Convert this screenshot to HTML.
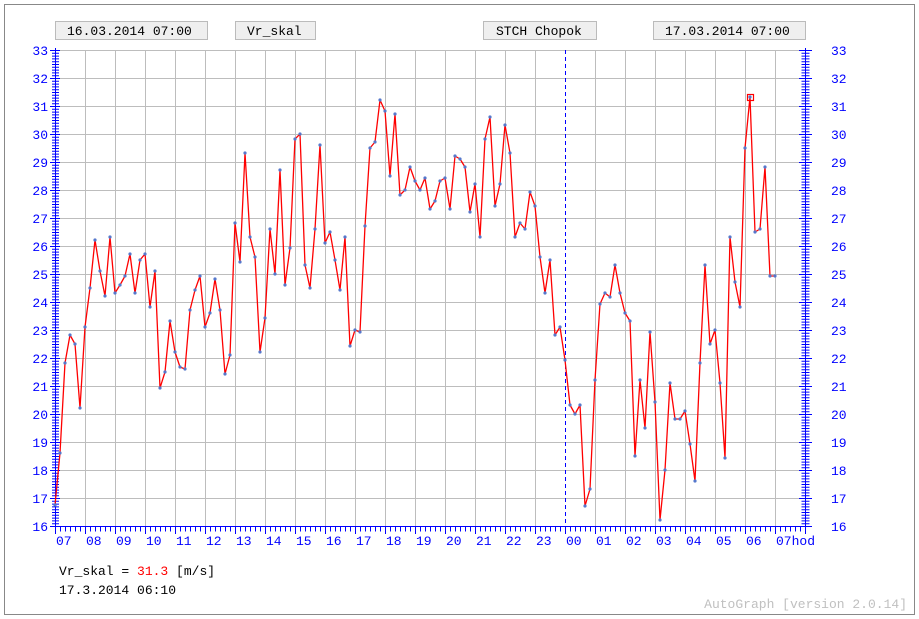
<!DOCTYPE html>
<html><head><meta charset="utf-8"><style>
html,body{margin:0;padding:0;background:#fff;}
svg{display:block;}
text{font-family:"Liberation Mono","DejaVu Sans Mono",monospace;font-size:13px;}
</style></head><body>
<svg width="919" height="619" viewBox="0 0 919 619" xmlns="http://www.w3.org/2000/svg">
<rect x="0" y="0" width="919" height="619" fill="#fff"/>
<rect x="4.5" y="4.5" width="910" height="610" fill="none" stroke="#888" stroke-width="1"/>
<!-- header boxes -->
<g fill="#efefef" stroke="#bbb" stroke-width="1">
<rect x="55.5" y="21.5" width="152" height="18"/>
<rect x="235.5" y="21.5" width="80" height="18"/>
<rect x="483.5" y="21.5" width="113" height="18"/>
<rect x="653.5" y="21.5" width="152" height="18"/>
</g>
<g fill="#000">
<text x="67" y="35">16.03.2014 07:00</text>
<text x="247" y="35">Vr_skal</text>
<text x="496" y="35">STCH Chopok</text>
<text x="665" y="35">17.03.2014 07:00</text>
</g>
<!-- grid -->
<g stroke="#bdbdbd" stroke-width="1">
<path d="M55 50.5H805M55 78.5H805M55 106.5H805M55 134.5H805M55 162.5H805M55 190.5H805M55 218.5H805M55 246.5H805M55 274.5H805M55 302.5H805M55 330.5H805M55 358.5H805M55 386.5H805M55 414.5H805M55 442.5H805M55 470.5H805M55 498.5H805"/>
<path d="M85.5 50V526M115.5 50V526M145.5 50V526M175.5 50V526M205.5 50V526M235.5 50V526M265.5 50V526M295.5 50V526M325.5 50V526M355.5 50V526M385.5 50V526M415.5 50V526M445.5 50V526M475.5 50V526M505.5 50V526M535.5 50V526M595.5 50V526M625.5 50V526M655.5 50V526M685.5 50V526M715.5 50V526M745.5 50V526M775.5 50V526"/>
</g>
<line x1="565.5" y1="50" x2="565.5" y2="526" stroke="#00f" stroke-width="1" stroke-dasharray="4,3"/>
<!-- axes -->
<g stroke="#00f" stroke-width="1">
<line x1="55.5" y1="48" x2="55.5" y2="527"/>
<line x1="55.5" y1="50" x2="55.5" y2="526" stroke-width="7" stroke-dasharray="1,1.8"/>
<line x1="805.5" y1="48" x2="805.5" y2="527"/>
<line x1="805.5" y1="50" x2="805.5" y2="526" stroke-width="8" stroke-dasharray="1,1.8"/>
<line x1="55" y1="526.5" x2="805" y2="526.5"/>
<line x1="55" y1="529" x2="805" y2="529" stroke-width="5" stroke-dasharray="1,4"/>
<path d="M50 50.5H60M50 78.5H60M50 106.5H60M50 134.5H60M50 162.5H60M50 190.5H60M50 218.5H60M50 246.5H60M50 274.5H60M50 302.5H60M50 330.5H60M50 358.5H60M50 386.5H60M50 414.5H60M50 442.5H60M50 470.5H60M50 498.5H60M50 526.5H60"/>
<path d="M799 50.5H812M799 78.5H812M799 106.5H812M799 134.5H812M799 162.5H812M799 190.5H812M799 218.5H812M799 246.5H812M799 274.5H812M799 302.5H812M799 330.5H812M799 358.5H812M799 386.5H812M799 414.5H812M799 442.5H812M799 470.5H812M799 498.5H812M799 526.5H812"/>
<path d="M55.5 526V534M85.5 526V534M115.5 526V534M145.5 526V534M175.5 526V534M205.5 526V534M235.5 526V534M265.5 526V534M295.5 526V534M325.5 526V534M355.5 526V534M385.5 526V534M415.5 526V534M445.5 526V534M475.5 526V534M505.5 526V534M535.5 526V534M565.5 526V534M595.5 526V534M625.5 526V534M655.5 526V534M685.5 526V534M715.5 526V534M745.5 526V534M775.5 526V534M805.5 526V534"/>
</g>
<g fill="#00f" text-anchor="end">
<text x="48" y="55">33</text><text x="48" y="83">32</text><text x="48" y="111">31</text><text x="48" y="139">30</text><text x="48" y="167">29</text><text x="48" y="195">28</text><text x="48" y="223">27</text><text x="48" y="251">26</text><text x="48" y="279">25</text><text x="48" y="307">24</text><text x="48" y="335">23</text><text x="48" y="363">22</text><text x="48" y="391">21</text><text x="48" y="419">20</text><text x="48" y="447">19</text><text x="48" y="475">18</text><text x="48" y="503">17</text><text x="48" y="531">16</text>
</g>
<g fill="#00f">
<text x="831" y="55">33</text><text x="831" y="83">32</text><text x="831" y="111">31</text><text x="831" y="139">30</text><text x="831" y="167">29</text><text x="831" y="195">28</text><text x="831" y="223">27</text><text x="831" y="251">26</text><text x="831" y="279">25</text><text x="831" y="307">24</text><text x="831" y="335">23</text><text x="831" y="363">22</text><text x="831" y="391">21</text><text x="831" y="419">20</text><text x="831" y="447">19</text><text x="831" y="475">18</text><text x="831" y="503">17</text><text x="831" y="531">16</text>
</g>
<g fill="#00f">
<text x="56" y="545">07</text><text x="86" y="545">08</text><text x="116" y="545">09</text><text x="146" y="545">10</text><text x="176" y="545">11</text><text x="206" y="545">12</text><text x="236" y="545">13</text><text x="266" y="545">14</text><text x="296" y="545">15</text><text x="326" y="545">16</text><text x="356" y="545">17</text><text x="386" y="545">18</text><text x="416" y="545">19</text><text x="446" y="545">20</text><text x="476" y="545">21</text><text x="506" y="545">22</text><text x="536" y="545">23</text><text x="566" y="545">00</text><text x="596" y="545">01</text><text x="626" y="545">02</text><text x="656" y="545">03</text><text x="686" y="545">04</text><text x="716" y="545">05</text><text x="746" y="545">06</text><text x="776" y="545">07hod</text>
</g>
<!-- series -->
<polyline fill="none" stroke="#f00" stroke-width="1.3" stroke-linejoin="round" points="55,505 60,453 65,363 70,335 75,344 80,408 85,327 90,288 95,240 100,271 105,296 110,237 115,293 120,285 125,276 130,254 135,293 140,260 145,254 150,307 155,271 160,388 165,372 170,321 175,352 180,367 185,369 190,310 195,290 200,276 205,327 210,313 215,279 220,310 225,374 230,355 235,223 240,262 245,153 250,237 255,257 260,352 265,318 270,229 275,274 280,170 285,285 290,248 295,139 300,134 305,265 310,288 315,229 320,145 325,243 330,232 335,260 340,290 345,237 350,346 355,330 360,332 365,226 370,148 375,142 380,100 385,111 390,176 395,114 400,195 405,190 410,167 415,181 420,190 425,178 430,209 435,201 440,181 445,178 450,209 455,156 460,159 465,167 470,212 475,184 480,237 485,139 490,117 495,206 500,184 505,125 510,153 515,237 520,223 525,229 530,192 535,206 540,257 545,293 550,260 555,335 560,327 565,360 570,405 575,414 580,405 585,506 590,489 595,380 600,304 605,293 610,297 615,265 620,293 625,313 630,321 635,456 640,380 645,428 650,332 655,402 660,520 665,470 670,383 675,419 680,419 685,411 690,444 695,481 700,363 705,265 710,344 715,330 720,383 725,458 730,237 735,282 740,307 745,148 750,97 755,232 760,229 765,167 770,276 775,276"/>
<polyline fill="none" stroke="#4a72c4" stroke-width="3" stroke-linecap="round" stroke-dasharray="0,5" points="55,505 60,453 65,363 70,335 75,344 80,408 85,327 90,288 95,240 100,271 105,296 110,237 115,293 120,285 125,276 130,254 135,293 140,260 145,254 150,307 155,271 160,388 165,372 170,321 175,352 180,367 185,369 190,310 195,290 200,276 205,327 210,313 215,279 220,310 225,374 230,355 235,223 240,262 245,153 250,237 255,257 260,352 265,318 270,229 275,274 280,170 285,285 290,248 295,139 300,134" opacity="0"/>
<g fill="#4a72c4" id="dots"></g>
<rect x="747.5" y="94.5" width="6" height="6" fill="none" stroke="#f00" stroke-width="1.2"/>
<g fill="#5577cc">
<circle cx="55" cy="505" r="1.6"/><circle cx="60" cy="453" r="1.6"/><circle cx="65" cy="363" r="1.6"/><circle cx="70" cy="335" r="1.6"/><circle cx="75" cy="344" r="1.6"/><circle cx="80" cy="408" r="1.6"/><circle cx="85" cy="327" r="1.6"/><circle cx="90" cy="288" r="1.6"/><circle cx="95" cy="240" r="1.6"/><circle cx="100" cy="271" r="1.6"/><circle cx="105" cy="296" r="1.6"/><circle cx="110" cy="237" r="1.6"/><circle cx="115" cy="293" r="1.6"/><circle cx="120" cy="285" r="1.6"/><circle cx="125" cy="276" r="1.6"/><circle cx="130" cy="254" r="1.6"/><circle cx="135" cy="293" r="1.6"/><circle cx="140" cy="260" r="1.6"/><circle cx="145" cy="254" r="1.6"/><circle cx="150" cy="307" r="1.6"/><circle cx="155" cy="271" r="1.6"/><circle cx="160" cy="388" r="1.6"/><circle cx="165" cy="372" r="1.6"/><circle cx="170" cy="321" r="1.6"/><circle cx="175" cy="352" r="1.6"/><circle cx="180" cy="367" r="1.6"/><circle cx="185" cy="369" r="1.6"/><circle cx="190" cy="310" r="1.6"/><circle cx="195" cy="290" r="1.6"/><circle cx="200" cy="276" r="1.6"/><circle cx="205" cy="327" r="1.6"/><circle cx="210" cy="313" r="1.6"/><circle cx="215" cy="279" r="1.6"/><circle cx="220" cy="310" r="1.6"/><circle cx="225" cy="374" r="1.6"/><circle cx="230" cy="355" r="1.6"/><circle cx="235" cy="223" r="1.6"/><circle cx="240" cy="262" r="1.6"/><circle cx="245" cy="153" r="1.6"/><circle cx="250" cy="237" r="1.6"/><circle cx="255" cy="257" r="1.6"/><circle cx="260" cy="352" r="1.6"/><circle cx="265" cy="318" r="1.6"/><circle cx="270" cy="229" r="1.6"/><circle cx="275" cy="274" r="1.6"/><circle cx="280" cy="170" r="1.6"/><circle cx="285" cy="285" r="1.6"/><circle cx="290" cy="248" r="1.6"/><circle cx="295" cy="139" r="1.6"/><circle cx="300" cy="134" r="1.6"/><circle cx="305" cy="265" r="1.6"/><circle cx="310" cy="288" r="1.6"/><circle cx="315" cy="229" r="1.6"/><circle cx="320" cy="145" r="1.6"/><circle cx="325" cy="243" r="1.6"/><circle cx="330" cy="232" r="1.6"/><circle cx="335" cy="260" r="1.6"/><circle cx="340" cy="290" r="1.6"/><circle cx="345" cy="237" r="1.6"/><circle cx="350" cy="346" r="1.6"/><circle cx="355" cy="330" r="1.6"/><circle cx="360" cy="332" r="1.6"/><circle cx="365" cy="226" r="1.6"/><circle cx="370" cy="148" r="1.6"/><circle cx="375" cy="142" r="1.6"/><circle cx="380" cy="100" r="1.6"/><circle cx="385" cy="111" r="1.6"/><circle cx="390" cy="176" r="1.6"/><circle cx="395" cy="114" r="1.6"/><circle cx="400" cy="195" r="1.6"/><circle cx="405" cy="190" r="1.6"/><circle cx="410" cy="167" r="1.6"/><circle cx="415" cy="181" r="1.6"/><circle cx="420" cy="190" r="1.6"/><circle cx="425" cy="178" r="1.6"/><circle cx="430" cy="209" r="1.6"/><circle cx="435" cy="201" r="1.6"/><circle cx="440" cy="181" r="1.6"/><circle cx="445" cy="178" r="1.6"/><circle cx="450" cy="209" r="1.6"/><circle cx="455" cy="156" r="1.6"/><circle cx="460" cy="159" r="1.6"/><circle cx="465" cy="167" r="1.6"/><circle cx="470" cy="212" r="1.6"/><circle cx="475" cy="184" r="1.6"/><circle cx="480" cy="237" r="1.6"/><circle cx="485" cy="139" r="1.6"/><circle cx="490" cy="117" r="1.6"/><circle cx="495" cy="206" r="1.6"/><circle cx="500" cy="184" r="1.6"/><circle cx="505" cy="125" r="1.6"/><circle cx="510" cy="153" r="1.6"/><circle cx="515" cy="237" r="1.6"/><circle cx="520" cy="223" r="1.6"/><circle cx="525" cy="229" r="1.6"/><circle cx="530" cy="192" r="1.6"/><circle cx="535" cy="206" r="1.6"/><circle cx="540" cy="257" r="1.6"/><circle cx="545" cy="293" r="1.6"/><circle cx="550" cy="260" r="1.6"/><circle cx="555" cy="335" r="1.6"/><circle cx="560" cy="327" r="1.6"/><circle cx="565" cy="360" r="1.6"/><circle cx="570" cy="405" r="1.6"/><circle cx="575" cy="414" r="1.6"/><circle cx="580" cy="405" r="1.6"/><circle cx="585" cy="506" r="1.6"/><circle cx="590" cy="489" r="1.6"/><circle cx="595" cy="380" r="1.6"/><circle cx="600" cy="304" r="1.6"/><circle cx="605" cy="293" r="1.6"/><circle cx="610" cy="297" r="1.6"/><circle cx="615" cy="265" r="1.6"/><circle cx="620" cy="293" r="1.6"/><circle cx="625" cy="313" r="1.6"/><circle cx="630" cy="321" r="1.6"/><circle cx="635" cy="456" r="1.6"/><circle cx="640" cy="380" r="1.6"/><circle cx="645" cy="428" r="1.6"/><circle cx="650" cy="332" r="1.6"/><circle cx="655" cy="402" r="1.6"/><circle cx="660" cy="520" r="1.6"/><circle cx="665" cy="470" r="1.6"/><circle cx="670" cy="383" r="1.6"/><circle cx="675" cy="419" r="1.6"/><circle cx="680" cy="419" r="1.6"/><circle cx="685" cy="411" r="1.6"/><circle cx="690" cy="444" r="1.6"/><circle cx="695" cy="481" r="1.6"/><circle cx="700" cy="363" r="1.6"/><circle cx="705" cy="265" r="1.6"/><circle cx="710" cy="344" r="1.6"/><circle cx="715" cy="330" r="1.6"/><circle cx="720" cy="383" r="1.6"/><circle cx="725" cy="458" r="1.6"/><circle cx="730" cy="237" r="1.6"/><circle cx="735" cy="282" r="1.6"/><circle cx="740" cy="307" r="1.6"/><circle cx="745" cy="148" r="1.6"/><circle cx="750" cy="97" r="1.6"/><circle cx="755" cy="232" r="1.6"/><circle cx="760" cy="229" r="1.6"/><circle cx="765" cy="167" r="1.6"/><circle cx="770" cy="276" r="1.6"/><circle cx="775" cy="276" r="1.6"/>
</g>
<!-- footer -->
<text x="59" y="575" fill="#000">Vr_skal = <tspan fill="#f00">31.3</tspan> [m/s]</text>
<text x="59" y="594" fill="#000">17.3.2014 06:10</text>
<text x="907" y="608" fill="#c0c0c0" text-anchor="end">AutoGraph [version 2.0.14]</text>
</svg>
</body></html>
